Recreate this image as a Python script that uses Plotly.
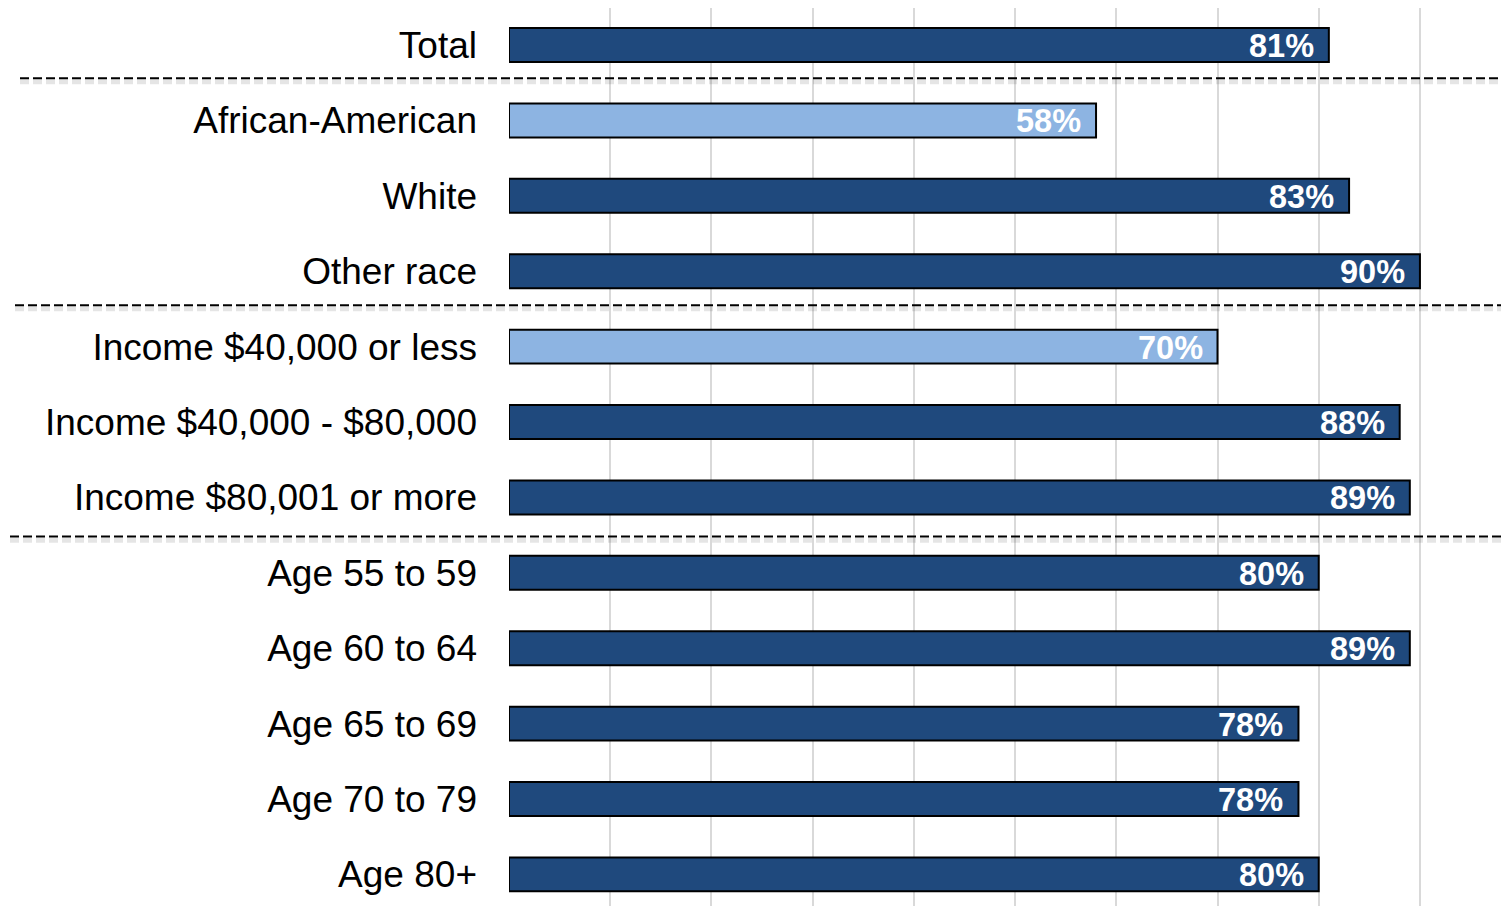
import plotly.graph_objects as go

# Data
categories = [
    "Total",
    "African-American", "White", "Other race",
    "Income $40,000 or less", "Income $40,000 - $80,000", "Income $80,001 or more",
    "Age 55 to 59", "Age 60 to 64", "Age 65 to 69", "Age 70 to 79", "Age 80+",
]
values = [81, 58, 83, 90, 70, 88, 89, 80, 89, 78, 78, 80]
highlight = [False, True, False, False, True, False, False, False, False, False, False, False]
value_labels = [f"{v}%" for v in values]

# group separators sit between these category indexes
separators = [0.44, 3.45, 6.52]
sep_starts = [-0.489, -0.494, -0.499]

DARK = "#1F497D"
LIGHT = "#8DB4E2"
FONT = "Liberation Sans, Arial, Helvetica, sans-serif"

Y_TOP, Y_BOTTOM = -0.491, 11.419

fig = go.Figure(go.Bar(
    x=values,
    y=list(range(len(categories))),
    orientation="h",
    width=0.45,
    marker=dict(color=[LIGHT if h else DARK for h in highlight],
                line=dict(color="black", width=2)),
    hoverinfo="skip",
))

for i, (v, t) in enumerate(zip(values, value_labels)):
    fig.add_annotation(x=v, y=i, text=f"<b>{t}</b>", showarrow=False,
                       xanchor="right", xshift=-13, yshift=-1,
                       font=dict(family=FONT, size=32.5, color="white"))


def to_paper(yv):
    return (Y_BOTTOM - yv) / (Y_BOTTOM - Y_TOP)


for s, x0 in zip(separators, sep_starts):
    yp = to_paper(s)
    fig.add_shape(type="line", xref="paper", yref="paper", x0=x0, x1=1.0,
                  y0=yp - 0.004, y1=yp - 0.004,
                  line=dict(color="rgba(0,0,0,0.10)", width=5, dash="9px,4px"))
    fig.add_shape(type="line", xref="paper", yref="paper", x0=x0, x1=1.0,
                  y0=yp, y1=yp,
                  line=dict(color="black", width=2, dash="9px,4px"))

fig.update_layout(
    width=1501, height=898,
    margin=dict(l=501, r=0, t=0, b=0),
    plot_bgcolor="white", paper_bgcolor="white",
    showlegend=False,
    font=dict(family=FONT, color="black"),
    xaxis=dict(range=[0, 98.8], tickvals=list(range(0, 100, 10)),
               showticklabels=False, showgrid=True, gridcolor="#D9D9D9",
               gridwidth=2, zeroline=False, showline=False, fixedrange=True),
    yaxis=dict(range=[Y_BOTTOM, Y_TOP], tickvals=list(range(len(categories))),
               ticktext=categories, ticks="", showgrid=False, zeroline=False,
               showline=False, tickfont=dict(family=FONT, size=37, color="black"),
               ticklabelstandoff=31, fixedrange=True),
)

fig.write_html("out.html")
